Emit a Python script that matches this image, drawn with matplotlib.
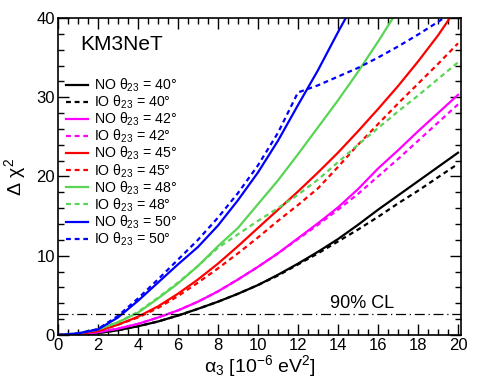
import matplotlib
matplotlib.use("Agg")
import matplotlib.pyplot as plt
from matplotlib.ticker import MultipleLocator

plt.rcParams['font.family'] = ['Liberation Sans', 'DejaVu Sans']
plt.rcParams['mathtext.fontset'] = 'custom'
plt.rcParams['mathtext.rm'] = 'Liberation Sans'
plt.rcParams['mathtext.it'] = 'Liberation Sans'
plt.rcParams['mathtext.bf'] = 'Liberation Sans:bold'

# alpha_3 grid [1e-6 eV^2]
alpha = [0, 1, 2, 3, 4, 5, 6, 7, 8, 9, 10, 11, 12, 13, 14, 15, 16, 17, 18, 19, 20]

# Delta chi^2
no40 = [0, 0.05, 0.25, 0.6, 1.1, 1.7, 2.45, 3.3, 4.2, 5.2, 6.3, 7.6, 9.0, 10.5, 12.1, 13.9, 15.8, 17.6, 19.4, 21.2, 23.0]
io40 = [0, 0.05, 0.25, 0.6, 1.1, 1.7, 2.45, 3.3, 4.2, 5.2, 6.3, 7.5, 8.9, 10.3, 11.8, 13.3, 14.9, 16.6, 18.2, 19.9, 21.6]
no42 = [0, 0.1, 0.35, 0.8, 1.4, 2.2, 3.1, 4.2, 5.5, 7.0, 8.6, 10.3, 12.2, 14.1, 16.1, 18.4, 21.0, 23.3, 25.7, 28.0, 30.3]
io42 = [0, 0.1, 0.35, 0.8, 1.4, 2.2, 3.1, 4.2, 5.5, 7.0, 8.6, 10.3, 12.1, 13.9, 15.8, 17.8, 20.0, 22.2, 24.5, 26.8, 29.1]
no45 = [0, 0.15, 0.5, 1.3, 2.3, 3.6, 5.2, 7.0, 9.0, 11.2, 13.5, 15.8, 18.1, 20.5, 23.0, 25.7, 28.5, 31.4, 34.5, 37.8, 41.5]
io45 = [0, 0.15, 0.5, 1.3, 2.2, 3.4, 4.9, 6.6, 8.4, 10.3, 12.3, 14.4, 16.4, 18.5, 21.2, 24.0, 26.6, 29.2, 31.7, 34.2, 36.8]
no48 = [0, 0.2, 0.7, 1.6, 2.8, 4.6, 6.5, 8.7, 11.2, 13.5, 16.5, 19.5, 22.8, 26.2, 29.6, 33.2, 37.0, 41.0, 45.0, 49.0, 53.0]
io48 = [0, 0.2, 0.7, 1.6, 2.9, 4.7, 6.6, 8.7, 11.0, 12.7, 14.4, 16.0, 17.7, 19.6, 21.8, 24.0, 26.1, 28.2, 30.2, 32.3, 34.4]
no50 = [0, 0.2, 0.7, 2.2, 4.3, 6.6, 8.9, 11.1, 13.8, 17.0, 20.5, 24.5, 29.0, 33.4, 38.2, 42.8, 47.5, 52.0, 56.5, 61.0, 65.5]
io50 = [0, 0.2, 0.75, 2.4, 4.6, 7.0, 9.5, 12.0, 14.8, 17.9, 21.4, 25.5, 30.6, 31.5, 32.6, 33.7, 35.0, 36.4, 37.9, 39.5, 41.2]

theta = [40, 42, 45, 48, 50]
colors = ['black', '#ff00ff', '#ff0000', '#59d454', '#0000ff']
series_no = [no40, no42, no45, no48, no50]
series_io = [io40, io42, io45, io48, io50]

cl90 = 2.71

fig = plt.figure(figsize=(4.86, 3.82), dpi=100)
ax = fig.add_axes([0.119, 0.123, 0.8296, 0.830])

handles = []
for th, c, yn, yi in zip(theta, colors, series_no, series_io):
    h1, = ax.plot(alpha, yn, color=c, lw=1.6, label=r'NO $\theta_{23}$ = %d°' % th)
    h2, = ax.plot(alpha, yi, color=c, lw=1.6, ls=(0, (2.2, 1.7)),
                  label=r'IO $\theta_{23}$ = %d°' % th)
    handles += [h1, h2]

ax.axhline(cl90, color='black', lw=0.9, ls=(0, (8, 3, 1, 3)))
ax.text(13.6, cl90 + 0.15, '90% CL', fontsize=13, va='bottom', ha='left')

ax.text(0.055, 0.915, 'KM3NeT', transform=ax.transAxes, fontsize=15,
        va='center', ha='left')

leg = ax.legend(handles=handles, loc='upper left', bbox_to_anchor=(0.02, 0.815),
                frameon=False, fontsize=10.2, handlelength=1.55, handletextpad=0.4,
                labelspacing=-0.02, borderaxespad=0.0, borderpad=0.0)

ax.set_xlim(0, 20.15)
ax.set_ylim(0, 40)
ax.xaxis.set_major_locator(MultipleLocator(2))
ax.xaxis.set_minor_locator(MultipleLocator(0.5))
ax.yaxis.set_major_locator(MultipleLocator(10))
ax.yaxis.set_minor_locator(MultipleLocator(2))
ax.tick_params(which='both', direction='in', top=True, right=True, labelsize=12)
ax.tick_params(which='major', length=8, width=1, pad=2)
ax.tick_params(which='minor', length=4, width=1)
for s in ax.spines.values():
    s.set_linewidth(1.2)

ax.set_xlabel(r'$\alpha_{3}$ [10$^{-6}$ eV$^{2}$]', fontsize=14, labelpad=0)
ax.set_ylabel(r'$\Delta\ \chi^{2}$', fontsize=14, labelpad=6)

fig.savefig('out.png', dpi=100)
